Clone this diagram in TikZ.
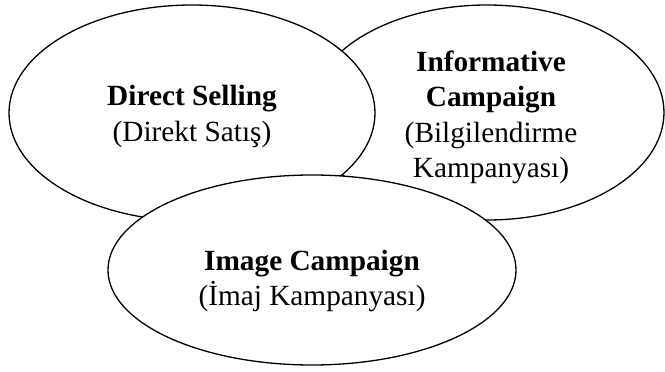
\documentclass[tikz,border=0pt]{standalone}
\usepackage{fontspec}
\setmainfont{Liberation Serif}
\usetikzlibrary{shapes.geometric}
\begin{document}
\begin{tikzpicture}[x=1pt,y=-1pt,
  blob/.style={ellipse, draw=black, fill=white, line width=1.3pt, inner sep=0pt},
  caption/.style={align=center, inner sep=0pt,
    font=\fontsize{29.3}{35.5}\selectfont}]
  \useasboundingbox (0,0) rectangle (665,372);
  % informative campaign (drawn first, sits behind)
  \node[blob, minimum width=354pt, minimum height=215pt] (info) at (487,112.5) {};
  \node[caption] (info-text) at ([xshift=4pt,yshift=-5pt]info.center)
    {\textbf{Informative}\\\textbf{Campaign}\\(Bilgilendirme\\Kampanyası)};
  % direct selling
  \node[blob, minimum width=366pt, minimum height=216pt] (direct) at (192,113) {};
  \node[caption] (direct-text) at ([yshift=-3.5pt]direct.center)
    {\textbf{Direct Selling}\\(Direkt Satış)};
  % image campaign (on top)
  \node[blob, minimum width=408pt, minimum height=190pt] (image) at (312,270) {};
  \node[caption] (image-text) at ([yshift=-11pt]image.center)
    {\textbf{Image Campaign}\\(İmaj Kampanyası)};
\end{tikzpicture}
\end{document}
